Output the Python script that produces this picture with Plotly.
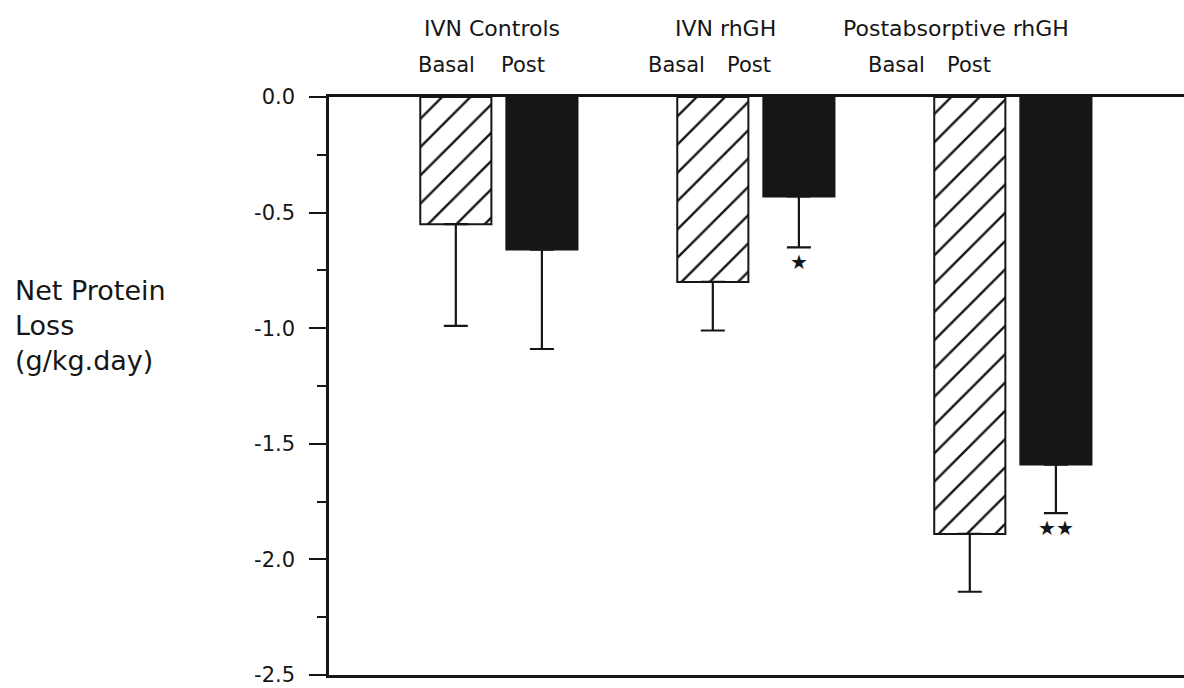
import plotly.graph_objects as go

# Net protein loss per study group (mean, with one-sided SEM bars)
groups = ["IVN Controls", "IVN rhGH", "Postabsorptive rhGH"]
basal_mean = [-0.55, -0.80, -1.89]
basal_sem = [0.44, 0.21, 0.25]
post_mean = [-0.66, -0.43, -1.59]
post_sem = [0.43, 0.22, 0.21]
significance = ["", "★", "★★"]
y_ticks = [0.0, -0.5, -1.0, -1.5, -2.0, -2.5]
y_ticktext = ["0.0", "-0.5", "-1.0", "-1.5", "-2.0", "-2.5"]

FONT = "DejaVu Sans, Verdana, sans-serif"
INK = "#161616"
BARGAP = 0.33

fig = go.Figure()

fig.add_trace(go.Bar(
    name="Basal", x=groups, y=basal_mean,
    marker=dict(color="white",
                line=dict(color=INK, width=2),
                pattern=dict(shape="/", fgcolor=INK, bgcolor="white",
                             fgopacity=1, size=20, solidity=0.12)),
    error_y=dict(type="data", symmetric=False,
                 array=[0] * len(basal_sem), arrayminus=basal_sem,
                 color=INK, thickness=2.2, width=12),
))
fig.add_trace(go.Bar(
    name="Post", x=groups, y=post_mean,
    marker=dict(color=INK, line=dict(color=INK, width=2)),
    error_y=dict(type="data", symmetric=False,
                 array=[0] * len(post_sem), arrayminus=post_sem,
                 color=INK, thickness=2.2, width=12),
))

annotations = []

# Group headings and Basal / Post sub-headings above the plot
head_shift = [-7, -30, -57]
basal_shift = [-9, -36, -73]
post_shift = [-19, -50, -87]
slot = (1 - BARGAP) / 2
for i, g in enumerate(groups):
    annotations.append(dict(x=i, xref="x", y=1, yref="paper", yshift=69,
                            xshift=head_shift[i], text=g, showarrow=False,
                            xanchor="center", yanchor="middle",
                            font=dict(size=22, color=INK, family=FONT)))
    annotations.append(dict(x=i - slot / 2, xref="x", y=1, yref="paper", yshift=32,
                            xshift=basal_shift[i], text="Basal", showarrow=False,
                            xanchor="center", yanchor="middle",
                            font=dict(size=21, color=INK, family=FONT)))
    annotations.append(dict(x=i + slot / 2, xref="x", y=1, yref="paper", yshift=32,
                            xshift=post_shift[i], text="Post", showarrow=False,
                            xanchor="center", yanchor="middle",
                            font=dict(size=21, color=INK, family=FONT)))
    # significance markers under the post-treatment error bars
    if significance[i]:
        annotations.append(dict(x=i + slot / 2, xref="x",
                                y=post_mean[i] - post_sem[i], yref="y",
                                yshift=-15, text=significance[i], showarrow=False,
                                xanchor="center", yanchor="middle",
                                font=dict(size=20, color=INK,
                                          family="DejaVu Sans")))

# Y-axis title, written horizontally at the left
annotations.append(dict(x=0, xref="paper", xshift=-316, y=-1.0, yref="y", yshift=3,
                        text="Net Protein<br>Loss<br>(g/kg.day)", showarrow=False,
                        xanchor="left", yanchor="middle", align="left",
                        font=dict(size=27, color=INK, family=FONT)))

fig.update_layout(
    width=1184, height=688,
    margin=dict(l=329, r=0, t=97, b=13),
    paper_bgcolor="white", plot_bgcolor="white",
    barmode="group", bargap=BARGAP, bargroupgap=0.174,
    showlegend=False,
    annotations=annotations,
    font=dict(family=FONT, color=INK),
)
fig.update_xaxes(
    type="category", range=[-0.661, 2.666],
    showticklabels=False, ticks="", showgrid=False, zeroline=False,
    showline=True, linecolor=INK, linewidth=3, mirror=True,
)
fig.update_yaxes(
    range=[-2.5, 0], tickvals=y_ticks, ticktext=y_ticktext,
    ticks="outside", ticklen=17, tickwidth=2, tickcolor=INK,
    ticklabelstandoff=10,
    tickfont=dict(size=21, color=INK, family=FONT),
    minor=dict(dtick=0.25, ticks="outside", ticklen=9, tickwidth=2,
               tickcolor=INK, showgrid=False),
    showgrid=False, zeroline=False,
    showline=True, linecolor=INK, linewidth=2.5,
)

fig.write_html("out.html")
